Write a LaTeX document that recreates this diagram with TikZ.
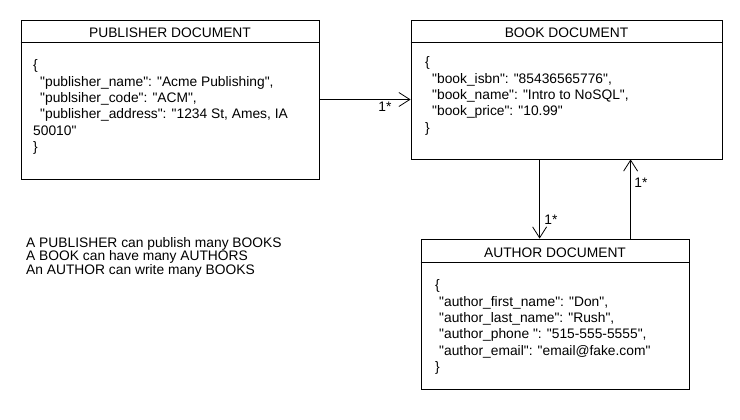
\documentclass[tikz,border=0pt]{standalone}
\usepackage{fontspec}
\setmainfont{Liberation Sans}[Ligatures=TeXOff]
\usetikzlibrary{arrows.meta}
\begin{document}
\begin{tikzpicture}[x=1pt,y=-1pt,
  docbox/.style={draw=black, line width=0.8pt, fill=white, inner sep=0pt},
  hdr/.style={anchor=base, inner sep=0pt, font=\fontsize{13.8}{16.4}\selectfont},
  body/.style={anchor=north west, inner sep=0pt, align=left, font=\fontsize{13.8}{16.4}\selectfont},
  note/.style={anchor=north west, inner sep=0pt, align=left, font=\fontsize{13.8}{13.6}\selectfont},
  lbl/.style={inner sep=0pt, font=\fontsize{13.8}{16}\selectfont},
  arr/.style={line width=0.8pt, -{Straight Barb[length=11pt,width=14pt,line width=0.8pt]}}
]
\useasboundingbox[fill=white] (0,0) rectangle (740,420);

% document boxes
\node[docbox, minimum width=298pt, minimum height=159pt] (pub) at (170,99.5) {};
\node[docbox, minimum width=311pt, minimum height=139pt] (book) at (566.5,89.5) {};
\node[docbox, minimum width=268pt, minimum height=150pt] (auth) at (555,314) {};

% header separators
\draw[line width=0.8pt] ([yshift=-23pt]pub.north west) -- ([yshift=-23pt]pub.north east);
\draw[line width=0.8pt] ([yshift=-23pt]book.north west) -- ([yshift=-23pt]book.north east);
\draw[line width=0.8pt] ([yshift=-24pt]auth.north west) -- ([yshift=-24pt]auth.north east);

% headers
\node[hdr] (pubh) at (170,38) {PUBLISHER DOCUMENT};
\node[hdr] (bookh) at (566.5,38) {BOOK DOCUMENT};
\node[hdr] (authh) at (555,257) {AUTHOR DOCUMENT};

% document contents
\node[body] (pubt) at (33,59.5) {\{\\
\hspace*{7pt}"publisher\_name": "Acme Publishing",\\
\hspace*{7pt}"publsiher\_code": "ACM",\\
\hspace*{7pt}"publisher\_address": "1234 St, Ames, IA\\
50010"\\
\}};
\node[body] (bookt) at (425,56.5) {\{\\
\hspace*{7pt}"book\_isbn": "85436565776",\\
\hspace*{7pt}"book\_name": "Intro to NoSQL",\\
\hspace*{7pt}"book\_price": "10.99"\\
\}};
\node[body] (autht) at (435,279.5) {\{\\
\hspace*{4pt}"author\_first\_name": "Don",\\
\hspace*{4pt}"author\_last\_name": "Rush",\\
\hspace*{4pt}"author\_phone ": "515-555-5555",\\
\hspace*{4pt}"author\_email": "email@fake.com"\\
\}};

% relationship notes
\node[note] (notes) at (26,237) {A PUBLISHER can publish many BOOKS\\
A BOOK can have many AUTHORS\\
An AUTHOR can write many BOOKS};

% connectors
\draw[arr] (pub.east) -- (pub.east -| book.west);
\coordinate (dn) at ([xshift=129pt]book.south west);
\coordinate (up) at ([xshift=210pt]auth.north west);
\draw[arr] (dn) -- (dn |- auth.north);
\draw[arr] (up) -- (up |- book.south);

% multiplicities
\node[lbl] (l1) at (385,107) {1*};
\node[lbl] (l2) at (551,220) {1*};
\node[lbl] (l3) at (641,183) {1*};
\end{tikzpicture}
\end{document}
